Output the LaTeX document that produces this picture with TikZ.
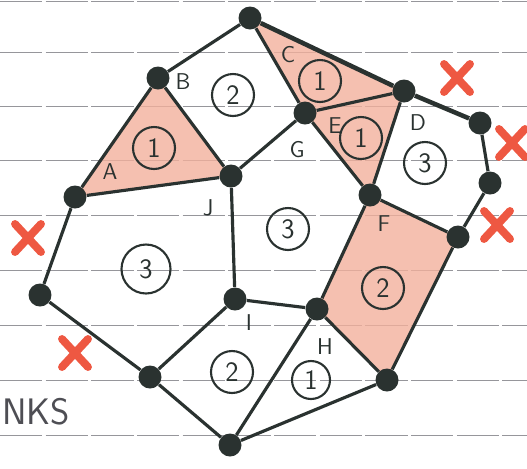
\documentclass[tikz,border=0pt]{standalone}
\usepackage{amsmath}
\usetikzlibrary{backgrounds}
\definecolor{ink}{RGB}{42,50,48}
\definecolor{shade}{RGB}{242,176,156}
\definecolor{crossred}{RGB}{238,88,66}
\definecolor{rule}{RGB}{150,150,155}
\definecolor{pencil}{RGB}{78,78,84}

\begin{document}
\begin{tikzpicture}[x=0.02cm, y=-0.02cm,
    vtx/.style={circle, fill=ink, inner sep=0pt, minimum size=0.46cm},
    edge/.style={ink, line width=1.8pt},
    lbl/.style={font=\sffamily\fontsize{13}{13}\selectfont, text=ink, inner sep=1pt},
    facenum/.style={circle, draw=ink, line width=1.2pt, inner sep=0pt, minimum size=0.84cm, font=\sffamily\fontsize{16}{16}\selectfont, text=ink},
    region/.style={fill=shade, opacity=0.8},
    cross/.style={crossred, line width=4.5pt, line cap=round}]
    \useasboundingbox (0,0) rectangle (527,468);
    % vertices
    \node[vtx] (t) at (250,18) {};
    \node[vtx] (b) at (158,78) {};
    \node[vtx] (a) at (75,197) {};
    \node[vtx] (j) at (231,176) {};
    \node[vtx] (g) at (305,113) {};
    \node[vtx] (d) at (404,91) {};
    \node[vtx] (p1) at (480,123) {};
    \node[vtx] (p2) at (490,183) {};
    \node[vtx] (p3) at (458,237) {};
    \node[vtx] (f) at (370,195) {};
    \node[vtx] (h) at (317,309) {};
    \node[vtx] (k) at (387,380) {};
    \node[vtx] (m) at (230,445) {};
    \node[vtx] (l) at (150,377) {};
    \node[vtx] (w) at (40,295) {};
    \node[vtx] (i) at (235,299) {};
    % paper and shaded faces
    \begin{scope}[on background layer]
        \foreach \yy in {1,52,106,160,215,270,325,380,435}
            \draw[rule, line width=0.4pt, dash pattern=on 24pt off 2pt] (0,\yy) -- (527,\yy);
        \fill[region] (b.center) -- (a.center) -- (j.center) -- cycle;
        \fill[region] (t.center) -- (g.center) -- (d.center) -- cycle;
        \fill[region] (g.center) -- (d.center) -- (f.center) -- cycle;
        \fill[region] (f.center) -- (p3.center) -- (k.center) -- (h.center) -- cycle;
    \end{scope}
    % edges
    \draw[edge] (t) -- (b) -- (a) -- (j) -- (b);
    \draw[edge] (t) -- (g) -- (d);
    \draw[edge, line width=2.6pt] (t) -- (d) -- (p1);
    \draw[edge] (g) -- (j);
    \draw[edge] (g) -- (f) -- (d);
    \draw[edge] (p1) -- (p2) -- (p3) -- (k) -- (h) -- (f) -- (p3);
    \draw[edge] (j) -- (i) -- (h) -- (m) -- (k);
    \draw[edge] (a) -- (w) -- (l) -- (m);
    \draw[edge] (l) -- (i);
    % vertex letters
    \node[lbl] (la) at (110,172) {A};
    \node[lbl] (lb) at (183,82) {B};
    \node[lbl] (lc) at (288,55) {C};
    \node[lbl] (ld) at (418,123) {D};
    \node[lbl] (le) at (335,126) {E};
    \node[lbl] (lf) at (384,224) {F};
    \node[lbl] (lg) at (297,150) {G};
    \node[lbl] (lh) at (325,347) {H};
    \node[lbl] (li) at (249,323) {I};
    \node[lbl] (lj) at (208,208) {J};
    % face numbers
    \node[facenum] (n1) at (233,95) {2};
    \node[facenum] (n2) at (154,148) {1};
    \node[facenum] (n3) at (320,81) {1};
    \node[facenum] (n4) at (361,138) {1};
    \node[facenum] (n5) at (425,163) {3};
    \node[facenum] (n6) at (288,229) {3};
    \node[facenum, minimum size=0.98cm] (n7) at (146,269) {3};
    \node[facenum] (n8) at (383,288) {2};
    \node[facenum] (n9) at (232,372) {2};
    \node[facenum, minimum size=0.76cm] (n10) at (311,380) {1};
    % red crosses
    \foreach \cx/\cy in {457/78, 512/143, 497/225, 28/238, 75/353} {
        \draw[cross] (\cx-13,\cy-14) -- (\cx+13,\cy+14);
        \draw[cross] (\cx+13,\cy-14) -- (\cx-13,\cy+14);
    }
    \node[font=\sffamily\fontsize{21}{21}\selectfont, text=pencil, anchor=base west, inner sep=1pt] (thanks) at (0,424) {NKS};
\end{tikzpicture}
\end{document}
